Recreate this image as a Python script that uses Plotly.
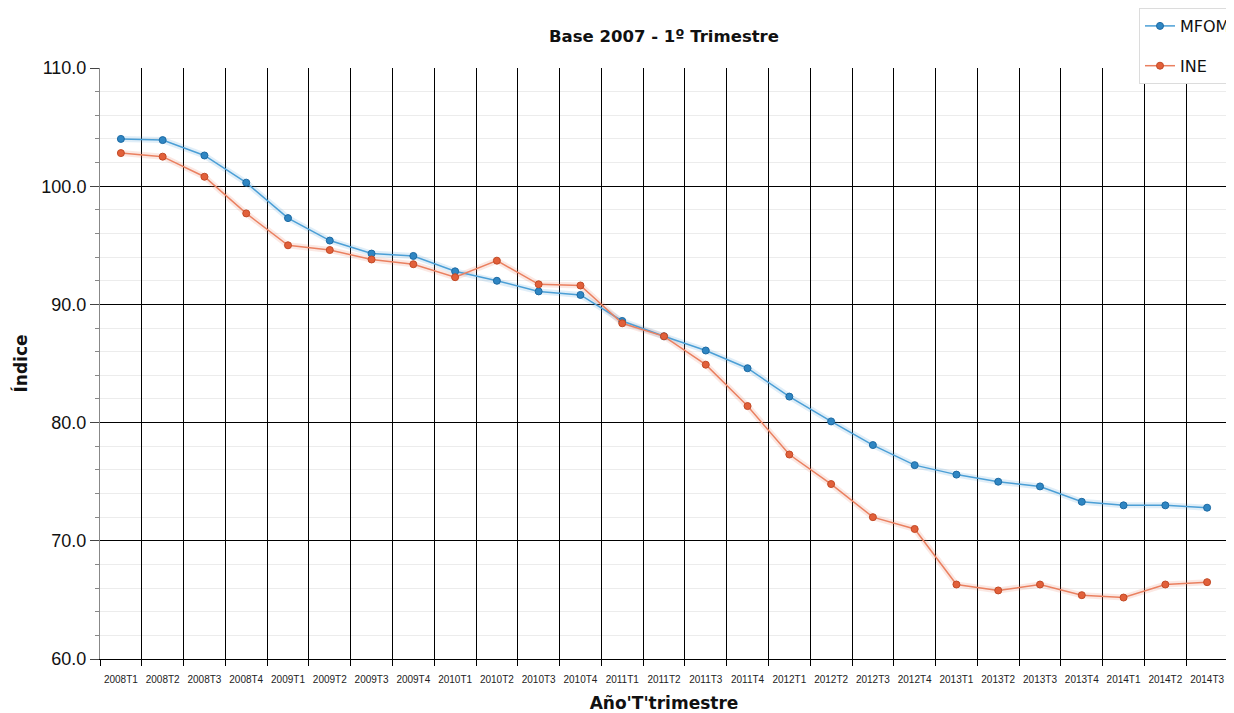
import plotly.graph_objects as go

categories = ["2008T1", "2008T2", "2008T3", "2008T4",
              "2009T1", "2009T2", "2009T3", "2009T4",
              "2010T1", "2010T2", "2010T3", "2010T4",
              "2011T1", "2011T2", "2011T3", "2011T4",
              "2012T1", "2012T2", "2012T3", "2012T4",
              "2013T1", "2013T2", "2013T3", "2013T4",
              "2014T1", "2014T2", "2014T3"]

mfom = [104.0, 103.9, 102.6, 100.3,
        97.3, 95.4, 94.3, 94.1,
        92.8, 92.0, 91.1, 90.8,
        88.6, 87.3, 86.1, 84.6,
        82.2, 80.1, 78.1, 76.4,
        75.6, 75.0, 74.6, 73.3,
        73.0, 73.0, 72.8]

ine = [102.8, 102.5, 100.8, 97.7,
       95.0, 94.6, 93.8, 93.4,
       92.3, 93.7, 91.7, 91.6,
       88.4, 87.3, 84.9, 81.4,
       77.3, 74.8, 72.0, 71.0,
       66.3, 65.8, 66.3, 65.4,
       65.2, 66.3, 66.5]

series = [
    ("MFOM", mfom, "#4b9fd6", "#2f86c3", "#1d6aa3", "rgba(60,150,210,0.16)", "a"),
    ("INE", ine, "#ea8060", "#e2603a", "#c24a26", "rgba(230,110,80,0.16)", "b"),
]

# the page body has an 8px margin, so the figure is 8px smaller than the window
W, H = 1226, 705
OFF = 8

fig = go.Figure()
for name, vals, lc, mc, mo, glow, grp in series:
    fig.add_trace(go.Scatter(
        x=categories, y=vals, mode="lines",
        line=dict(color=glow, width=6),
        showlegend=False, hoverinfo="skip", legendgroup=grp))
for name, vals, lc, mc, mo, glow, grp in series:
    fig.add_trace(go.Scatter(
        x=categories, y=vals, mode="lines+markers", name=name,
        legendgroup=grp,
        line=dict(color=lc, width=1.5),
        marker=dict(color=mc, size=7, line=dict(color=mo, width=1))))

fig.update_layout(
    width=W, height=H,
    paper_bgcolor="white", plot_bgcolor="white",
    margin=dict(l=100 - OFF, r=6, t=68 - OFF, b=54, autoexpand=False),
    title=dict(text="<b>Base 2007 - 1º Trimestre</b>",
               font=dict(family="DejaVu Sans", size=16.5, color="#111"),
               x=(664 - OFF) / W, xanchor="center",
               y=1 - (36 - OFF) / H, yanchor="middle"),
    font=dict(family="DejaVu Sans", color="#111"),
    legend=dict(xref="container", yref="container",
                x=(1139 - OFF) / W, y=1 + 1 / H, xanchor="left", yanchor="top",
                bgcolor="white", bordercolor="#dcdcdc", borderwidth=1,
                font=dict(family="DejaVu Sans", size=16, color="#111"),
                tracegroupgap=16, traceorder="grouped", itemwidth=30),
    showlegend=True,
)

fig.update_xaxes(
    type="category", tickson="boundaries", range=[-0.5, 26.5],
    automargin=False, tickangle=0, ticklabelstandoff=11,
    showgrid=True, gridcolor="#000000", gridwidth=1,
    ticks="outside", ticklen=6, tickcolor="#000000",
    showline=True, linecolor="#000000", linewidth=1,
    tickfont=dict(family="Liberation Sans", size=10, color="#222"),
    title=dict(text="<b>Año'T'trimestre</b>",
               font=dict(family="DejaVu Sans", size=17, color="#111"),
               standoff=18),
)

fig.update_yaxes(
    range=[60, 110], dtick=10, tick0=60, tickformat=".1f",
    automargin=False,
    showgrid=True, gridcolor="#000000", gridwidth=1,
    ticks="outside", ticklen=9, tickcolor="#444",
    showline=True, linecolor="#888", linewidth=1,
    zeroline=False,
    tickfont=dict(family="Liberation Sans", size=18, color="#111"),
    minor=dict(dtick=2, showgrid=True, gridcolor="#ececec", gridwidth=1,
               ticks="outside", ticklen=4, tickcolor="#888"),
    title=dict(text="<b>Índice</b>",
               font=dict(family="DejaVu Sans", size=17, color="#111"),
               standoff=9),
)

# right border of plot area
fig.add_shape(type="line", xref="paper", yref="paper", x0=1, x1=1, y0=0, y1=1,
              line=dict(color="#bbbbbb", width=1))
# legend separator
fig.add_shape(type="line", xref="paper", yref="paper",
              x0=(1147 - 100) / 1128, x1=(1234 - 100) / 1128,
              y0=1 + (68 - 48) / 591, y1=1 + (68 - 48) / 591,
              line=dict(color="#e6e6e6", width=1))

fig.write_html("out.html")
